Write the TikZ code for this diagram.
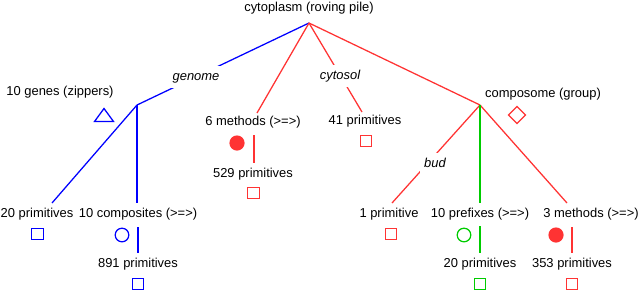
\documentclass[tikz,border=0pt]{standalone}
\usepackage{fontspec}
\setmainfont{Liberation Sans}
\usetikzlibrary{shapes.geometric}
\definecolor{cellBlue}{HTML}{0000FF}
\definecolor{cellRed}{HTML}{FF3333}
\definecolor{cellGreen}{HTML}{00CC00}

\begin{document}
\begin{tikzpicture}[
  x=.025cm, y=-.025cm,
  font=\fontsize{9.2}{11}\selectfont,
  lbl/.style={inner sep=0pt,text height=.72em,text depth=.21em},
  tag/.style={lbl,font=\fontsize{9.2}{11}\selectfont\itshape,fill=white,inner xsep=3pt,inner ysep=3pt},
  link/.style={line width=.9pt},
  box/.style={draw,line width=.9pt,minimum size=.29cm,inner sep=0pt},
  ring/.style={draw,circle,line width=.9pt,minimum size=.34cm,inner sep=0pt},
  dot/.style={fill,circle,minimum size=.38cm,inner sep=0pt}
]
  \useasboundingbox (0,0) rectangle (640,292);

  % junctions and line ends
  \coordinate (top) at (309,23);
  \coordinate (gjoin) at (137,105);
  \coordinate (cjoin) at (480,105);
  \coordinate (m6in) at (257,113);
  \coordinate (cyin) at (362,112);
  \coordinate (p20in) at (52,203);
  \coordinate (c10in) at (137,203);
  \coordinate (p1in) at (392,203);
  \coordinate (x10in) at (480,203);
  \coordinate (m3in) at (567,203);
  \coordinate (m6out) at (254,135);  \coordinate (p529in) at (254,163);
  \coordinate (c10out) at (138,227); \coordinate (p891in) at (138,253);
  \coordinate (x10out) at (480,226); \coordinate (x20in) at (480,253);
  \coordinate (m3out) at (572,227);  \coordinate (p353in) at (572,253);

  % tree lines
  \draw[link,cellBlue] (top) -- (gjoin);
  \draw[link,cellBlue] (gjoin) -- (p20in);
  \draw[link,cellBlue] (gjoin) -- (c10in);
  \draw[link,cellBlue] (c10out) -- (p891in);
  \draw[link,cellRed] (top) -- (m6in);
  \draw[link,cellRed] (m6out) -- (p529in);
  \draw[link,cellRed] (top) -- (cyin);
  \draw[link,cellRed] (top) -- (cjoin);
  \draw[link,cellRed] (cjoin) -- (p1in);
  \draw[link,cellRed] (cjoin) -- (m3in);
  \draw[link,cellRed] (m3out) -- (p353in);
  \draw[link,cellGreen] (cjoin) -- (x10in);
  \draw[link,cellGreen] (x10out) -- (x20in);

  % italic tags on the lines
  \node[tag] (genome) at (196,77) {genome};
  \node[tag] (cytosol) at (340,76) {cytosol};
  \node[tag] (bud) at (435,164) {bud};

  % labels
  \node[lbl] (root) at (309,8) {cytoplasm (roving pile)};
  \node[lbl] (genes) at (60,92) {10 genes (zippers)};
  \node[lbl] (m6) at (253,122) {6 methods (>=>)};
  \node[lbl] (p529) at (253,174) {529 primitives};
  \node[lbl] (p41) at (365,121) {41 primitives};
  \node[lbl] (cgroup) at (543,94) {composome (group)};
  \node[lbl] (p20) at (37,214) {20 primitives};
  \node[lbl] (c10) at (138,214) {10 composites (>=>)};
  \node[lbl] (p891) at (138,264) {891 primitives};
  \node[lbl] (p1) at (389,214) {1 primitive};
  \node[lbl] (x10) at (480,214) {10 prefixes (>=>)};
  \node[lbl] (x20) at (480,264) {20 primitives};
  \node[lbl] (m3) at (591,214) {3 methods (>=>)};
  \node[lbl] (p353) at (572,264) {353 primitives};

  % symbols
  \coordinate (genessym) at (104,115);
  \draw[cellBlue,line width=.9pt,line join=miter] (genessym) ++(-9.5,6.5) -- ++(19,0) -- ++(-9.5,-13) -- cycle;
  \node[draw=cellRed,diamond,line width=.9pt,minimum size=.44cm,inner sep=0pt] (cgroupsym) at (517,115) {};
  \node[dot,cellRed] (m6sym) at (237,143) {};
  \node[box,cellRed] (p529sym) at (253.5,193) {};
  \node[box,cellRed] (p41sym) at (366,141) {};
  \node[box,cellBlue] (p20sym) at (37.5,234) {};
  \node[ring,cellBlue] (c10sym) at (122,235) {};
  \node[box,cellBlue] (p891sym) at (138,284) {};
  \node[box,cellRed] (p1sym) at (391,234) {};
  \node[ring,cellGreen] (x10sym) at (464,235) {};
  \node[box,cellGreen] (x20sym) at (480,284) {};
  \node[dot,cellRed] (m3sym) at (556,235) {};
  \node[box,cellRed] (p353sym) at (572,284) {};
\end{tikzpicture}
\end{document}
